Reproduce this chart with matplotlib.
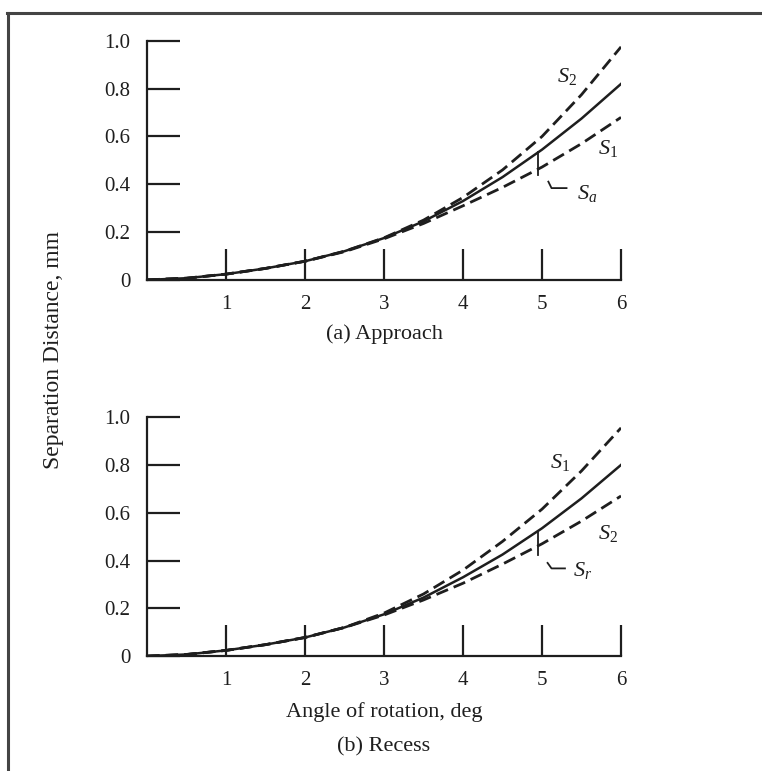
import matplotlib
matplotlib.use('Agg')
import matplotlib.pyplot as plt
from matplotlib.lines import Line2D

plt.rcParams['font.family'] = ['Liberation Serif', 'DejaVu Serif']
plt.rcParams['mathtext.fontset'] = 'custom'
plt.rcParams['mathtext.it'] = 'Liberation Serif:italic'
plt.rcParams['mathtext.rm'] = 'Liberation Serif'

angle = [0, 0.5, 1, 1.5, 2, 2.5, 3, 3.5, 4, 4.5, 5, 5.5, 6]

# (a) approach
app_s1 = [0, 0.007, 0.024, 0.048, 0.078, 0.12, 0.175, 0.245, 0.33, 0.43, 0.545, 0.675, 0.82]
app_s2 = [0, 0.007, 0.024, 0.048, 0.078, 0.12, 0.176, 0.25, 0.345, 0.46, 0.60, 0.775, 0.975]
app_sa = [0, 0.007, 0.024, 0.048, 0.078, 0.118, 0.172, 0.236, 0.31, 0.387, 0.472, 0.57, 0.68]

# (b) recess
rec_s1 = [0, 0.007, 0.024, 0.048, 0.078, 0.12, 0.18, 0.26, 0.36, 0.48, 0.615, 0.775, 0.955]
rec_s2 = [0, 0.007, 0.024, 0.048, 0.078, 0.12, 0.172, 0.235, 0.305, 0.385, 0.47, 0.565, 0.67]
rec_sr = [0, 0.007, 0.024, 0.048, 0.078, 0.12, 0.175, 0.245, 0.33, 0.425, 0.535, 0.66, 0.80]

xticks = [1, 2, 3, 4, 5, 6]
yticks = [0, 0.2, 0.4, 0.6, 0.8, 1.0]
ylabels = ['0', '0.2', '0.4', '0.6', '0.8', '1.0']

ink = '#1e1e1e'
dash = (0, (4.5, 2.2))

fig = plt.figure(figsize=(7.62, 7.71), dpi=100)
ax1 = fig.add_axes([0.193, 0.637, 0.622, 0.31])
ax2 = fig.add_axes([0.193, 0.149, 0.622, 0.31])


def style(ax):
    ax.set_xlim(0, 6)
    ax.set_ylim(0, 1.0)
    for s in ['top', 'right']:
        ax.spines[s].set_visible(False)
    for s in ['left', 'bottom']:
        ax.spines[s].set_linewidth(1.6)
        ax.spines[s].set_color(ink)
    ax.set_xticks(xticks)
    ax.set_yticks(yticks)
    ax.set_yticklabels(ylabels)
    ax.tick_params(axis='y', direction='in', length=24, width=1.6, pad=12,
                   labelsize=15, colors=ink)
    ax.tick_params(axis='x', direction='in', length=22, width=1.6, pad=11,
                   labelsize=15, colors=ink)
    ax.patch.set_alpha(0)


def marker(ax, x, y_top, y_bot, lead):
    ax.plot([x, x], [y_top, y_bot], color=ink, lw=1.3)
    ax.plot([p[0] for p in lead], [p[1] for p in lead], color=ink, lw=1.3)


style(ax1)
ax1.plot(angle, app_s2, color=ink, lw=2, linestyle=dash)
ax1.plot(angle, app_s1, color=ink, lw=1.8)
ax1.plot(angle, app_sa, color=ink, lw=2, linestyle=dash)
marker(ax1, 4.95, 0.535, 0.44, [(5.08, 0.411), (5.12, 0.384), (5.31, 0.384)])
ax1.text(5.32, 0.85, '$S_2$', fontsize=16, color=ink, ha='center', va='center')
ax1.text(5.84, 0.55, '$S_1$', fontsize=16, color=ink, ha='center', va='center')
ax1.text(5.57, 0.36, '$S_a$', fontsize=16, color=ink, ha='center', va='center')

style(ax2)
ax2.plot(angle, rec_s1, color=ink, lw=2, linestyle=dash)
ax2.plot(angle, rec_sr, color=ink, lw=1.8)
ax2.plot(angle, rec_s2, color=ink, lw=2, linestyle=dash)
marker(ax2, 4.95, 0.52, 0.425, [(5.07, 0.39), (5.12, 0.367), (5.29, 0.367)])
ax2.text(5.23, 0.81, '$S_1$', fontsize=16, color=ink, ha='center', va='center')
ax2.text(5.84, 0.515, '$S_2$', fontsize=16, color=ink, ha='center', va='center')
ax2.text(5.51, 0.36, '$S_r$', fontsize=16, color=ink, ha='center', va='center')

fig.text(0.504, 0.567, '(a) Approach', fontsize=16, color=ink, ha='center', va='center')
fig.text(0.504, 0.077, 'Angle of rotation, deg', fontsize=16, color=ink, ha='center', va='center')
fig.text(0.504, 0.031, '(b) Recess', fontsize=16, color=ink, ha='center', va='center')
fig.text(0.070, 0.546, 'Separation Distance, mm', fontsize=17, color=ink,
         rotation=90, ha='center', va='center')

# frame around the figure (top and left edges only are visible)
fig.add_artist(Line2D([0.009, 1.0], [0.983, 0.983], color='#444444', lw=2.2))
fig.add_artist(Line2D([0.0105, 0.0105], [0.0, 0.983], color='#444444', lw=2.2))

fig.savefig('out.png', dpi=100, facecolor='white')
